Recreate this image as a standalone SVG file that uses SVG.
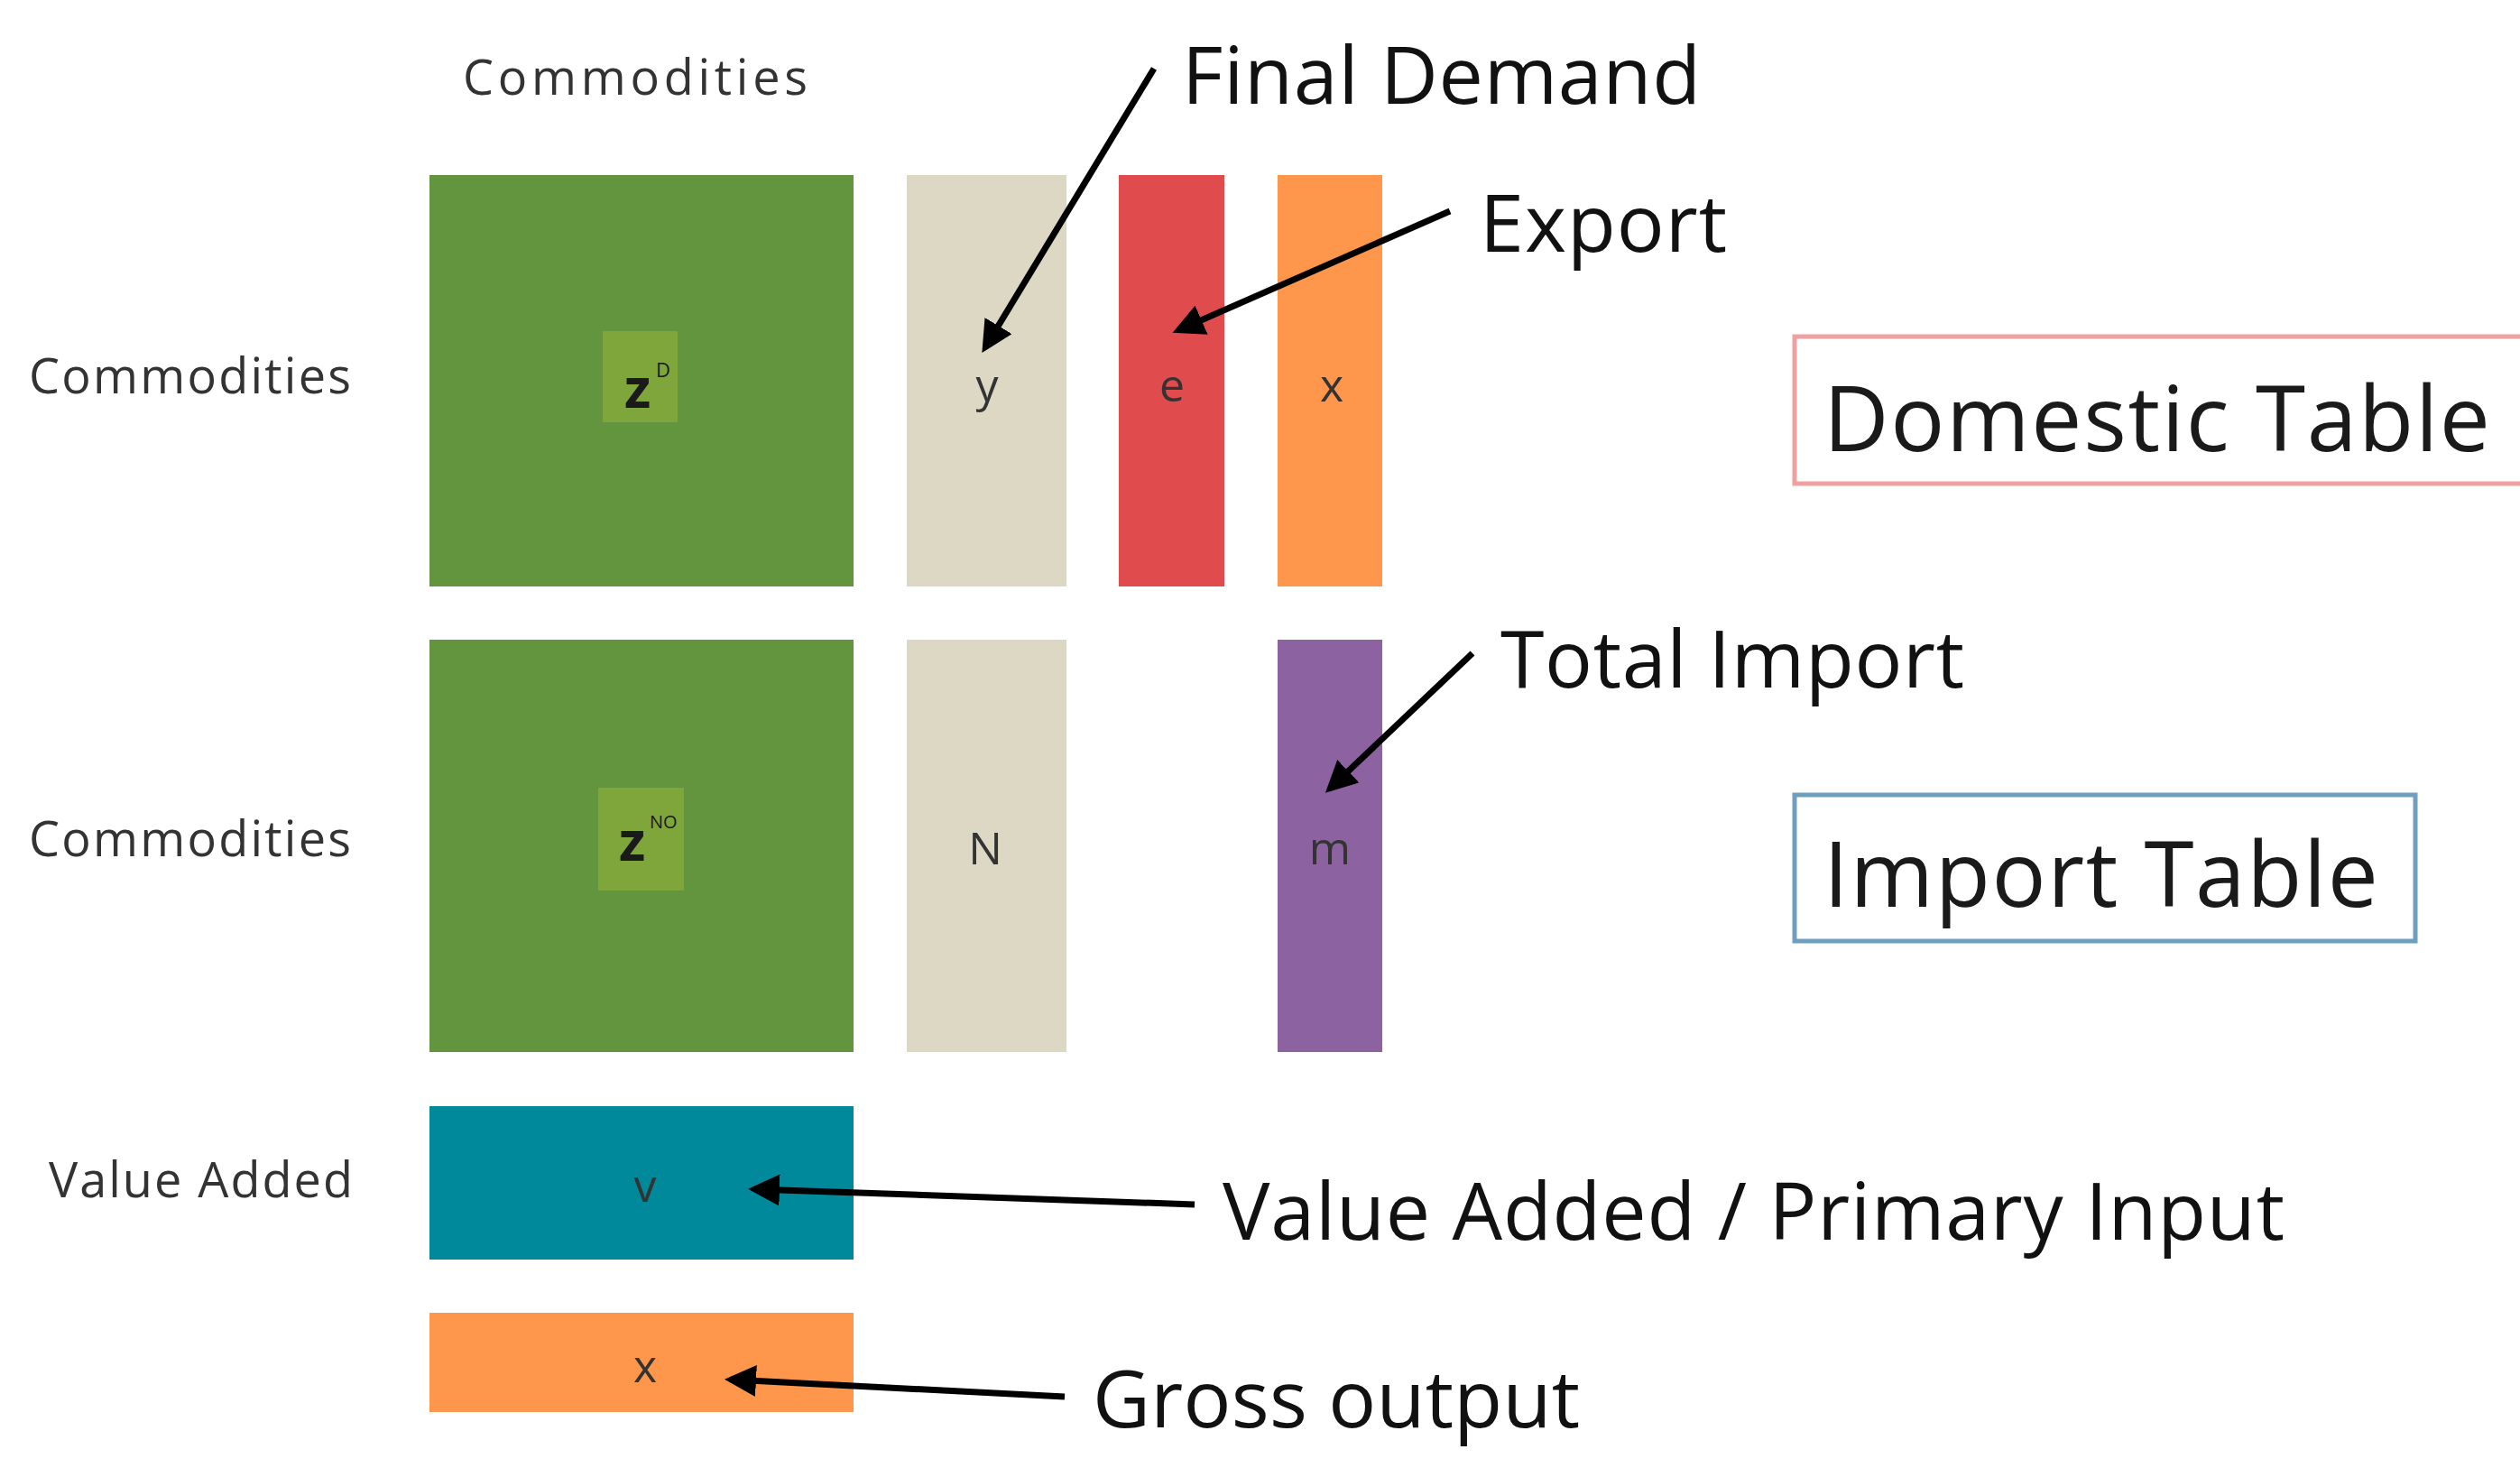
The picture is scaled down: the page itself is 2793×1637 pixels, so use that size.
<svg xmlns="http://www.w3.org/2000/svg" width="2793" height="1637" viewBox="0 0 2793 1637">
<style>
text{font-family:"Open Sans","Liberation Sans",sans-serif;fill:#1a1a1a}
.lab{font-size:54px;fill:#333}
.big{font-size:88px;fill:#111}
.cell{font-size:50px;fill:#333;text-anchor:middle}
.conn line{stroke:#000;stroke-width:7;marker-end:url(#ah)}
</style>
<defs><marker id="ah" viewBox="0 0 10 10" refX="8" refY="5" markerWidth="5" markerHeight="5" orient="auto" markerUnits="strokeWidth"><path d="M0,0 L10,5 L0,10 z" fill="#000"/></marker></defs>
<rect width="2793" height="1637" fill="#fff"/>
<text class="lab" x="513" y="105" textLength="382">Commodities</text>
<text class="lab" x="32" y="436" textLength="357">Commodities</text>
<text class="lab" x="32" y="949" textLength="357">Commodities</text>
<text class="lab" x="54" y="1327" textLength="337">Value Added</text>
<g id="zd"><rect x="476" y="194" width="470" height="456" fill="#62953e"/><rect x="668" y="367" width="83" height="101" fill="#7fa63a"/><text x="692" y="452" font-size="60" font-weight="bold" fill="#111">z</text><text x="727" y="418" font-size="22" fill="#111">D</text></g>
<g id="y"><rect x="1005" y="194" width="177" height="456" fill="#ddd8c4"/><text class="cell" x="1094" y="445">y</text></g>
<g id="e"><rect x="1240" y="194" width="117" height="456" fill="#e04b4d"/><text class="cell" x="1299" y="445" fill="#5a1010">e</text></g>
<g id="x1"><rect x="1416" y="194" width="116" height="456" fill="#fe964b"/><text class="cell" x="1476" y="445">x</text></g>
<g id="zno"><rect x="476" y="709" width="470" height="457" fill="#62953e"/><rect x="663" y="873" width="95" height="114" fill="#7fa63a"/><text x="686" y="954" font-size="60" font-weight="bold" fill="#111">z</text><text x="720" y="918" font-size="20" fill="#111">NO</text></g>
<g id="N"><rect x="1005" y="709" width="177" height="457" fill="#ddd8c4"/><text class="cell" x="1092" y="958">N</text></g>
<g id="m"><rect x="1416" y="709" width="116" height="457" fill="#8d62a0"/><text class="cell" x="1474" y="958">m</text></g>
<g id="v"><rect x="476" y="1226" width="470" height="170" fill="#00889b"/><text class="cell" x="715" y="1332">v</text></g>
<g id="x2"><rect x="476" y="1455" width="470" height="110" fill="#fe964b"/><text class="cell" x="715" y="1532">x</text></g>
<g id="domestic"><rect x="1989" y="373" width="820" height="163" fill="#fff" stroke="#f0a0a0" stroke-width="5"/><text x="2021" y="500" font-size="100" fill="#c00000" textLength="739">Domestic Table</text></g>
<g id="import"><rect x="1989" y="881" width="688" height="162" fill="#fff" stroke="#6f9fbf" stroke-width="5"/><text x="2021" y="1005" font-size="100" fill="#10284a" textLength="615">Import Table</text></g>
<text class="big" x="1310" y="115" textLength="575">Final Demand</text>
<text class="big" x="1640" y="279" textLength="274">Export</text>
<text class="big" x="1663" y="762" textLength="514">Total Import</text>
<text class="big" x="1355" y="1374" textLength="1177">Value Added / Primary Input</text>
<text class="big" x="1211" y="1582" textLength="540">Gross output</text>
<g class="conn">
<line x1="1279" y1="76" x2="1092" y2="385"/>
<line x1="1607" y1="234" x2="1306" y2="366"/>
<line x1="1632" y1="724" x2="1474" y2="874"/>
<line x1="1324" y1="1335" x2="836" y2="1318"/>
<line x1="1180" y1="1548" x2="810" y2="1529"/>
</g>
</svg>
